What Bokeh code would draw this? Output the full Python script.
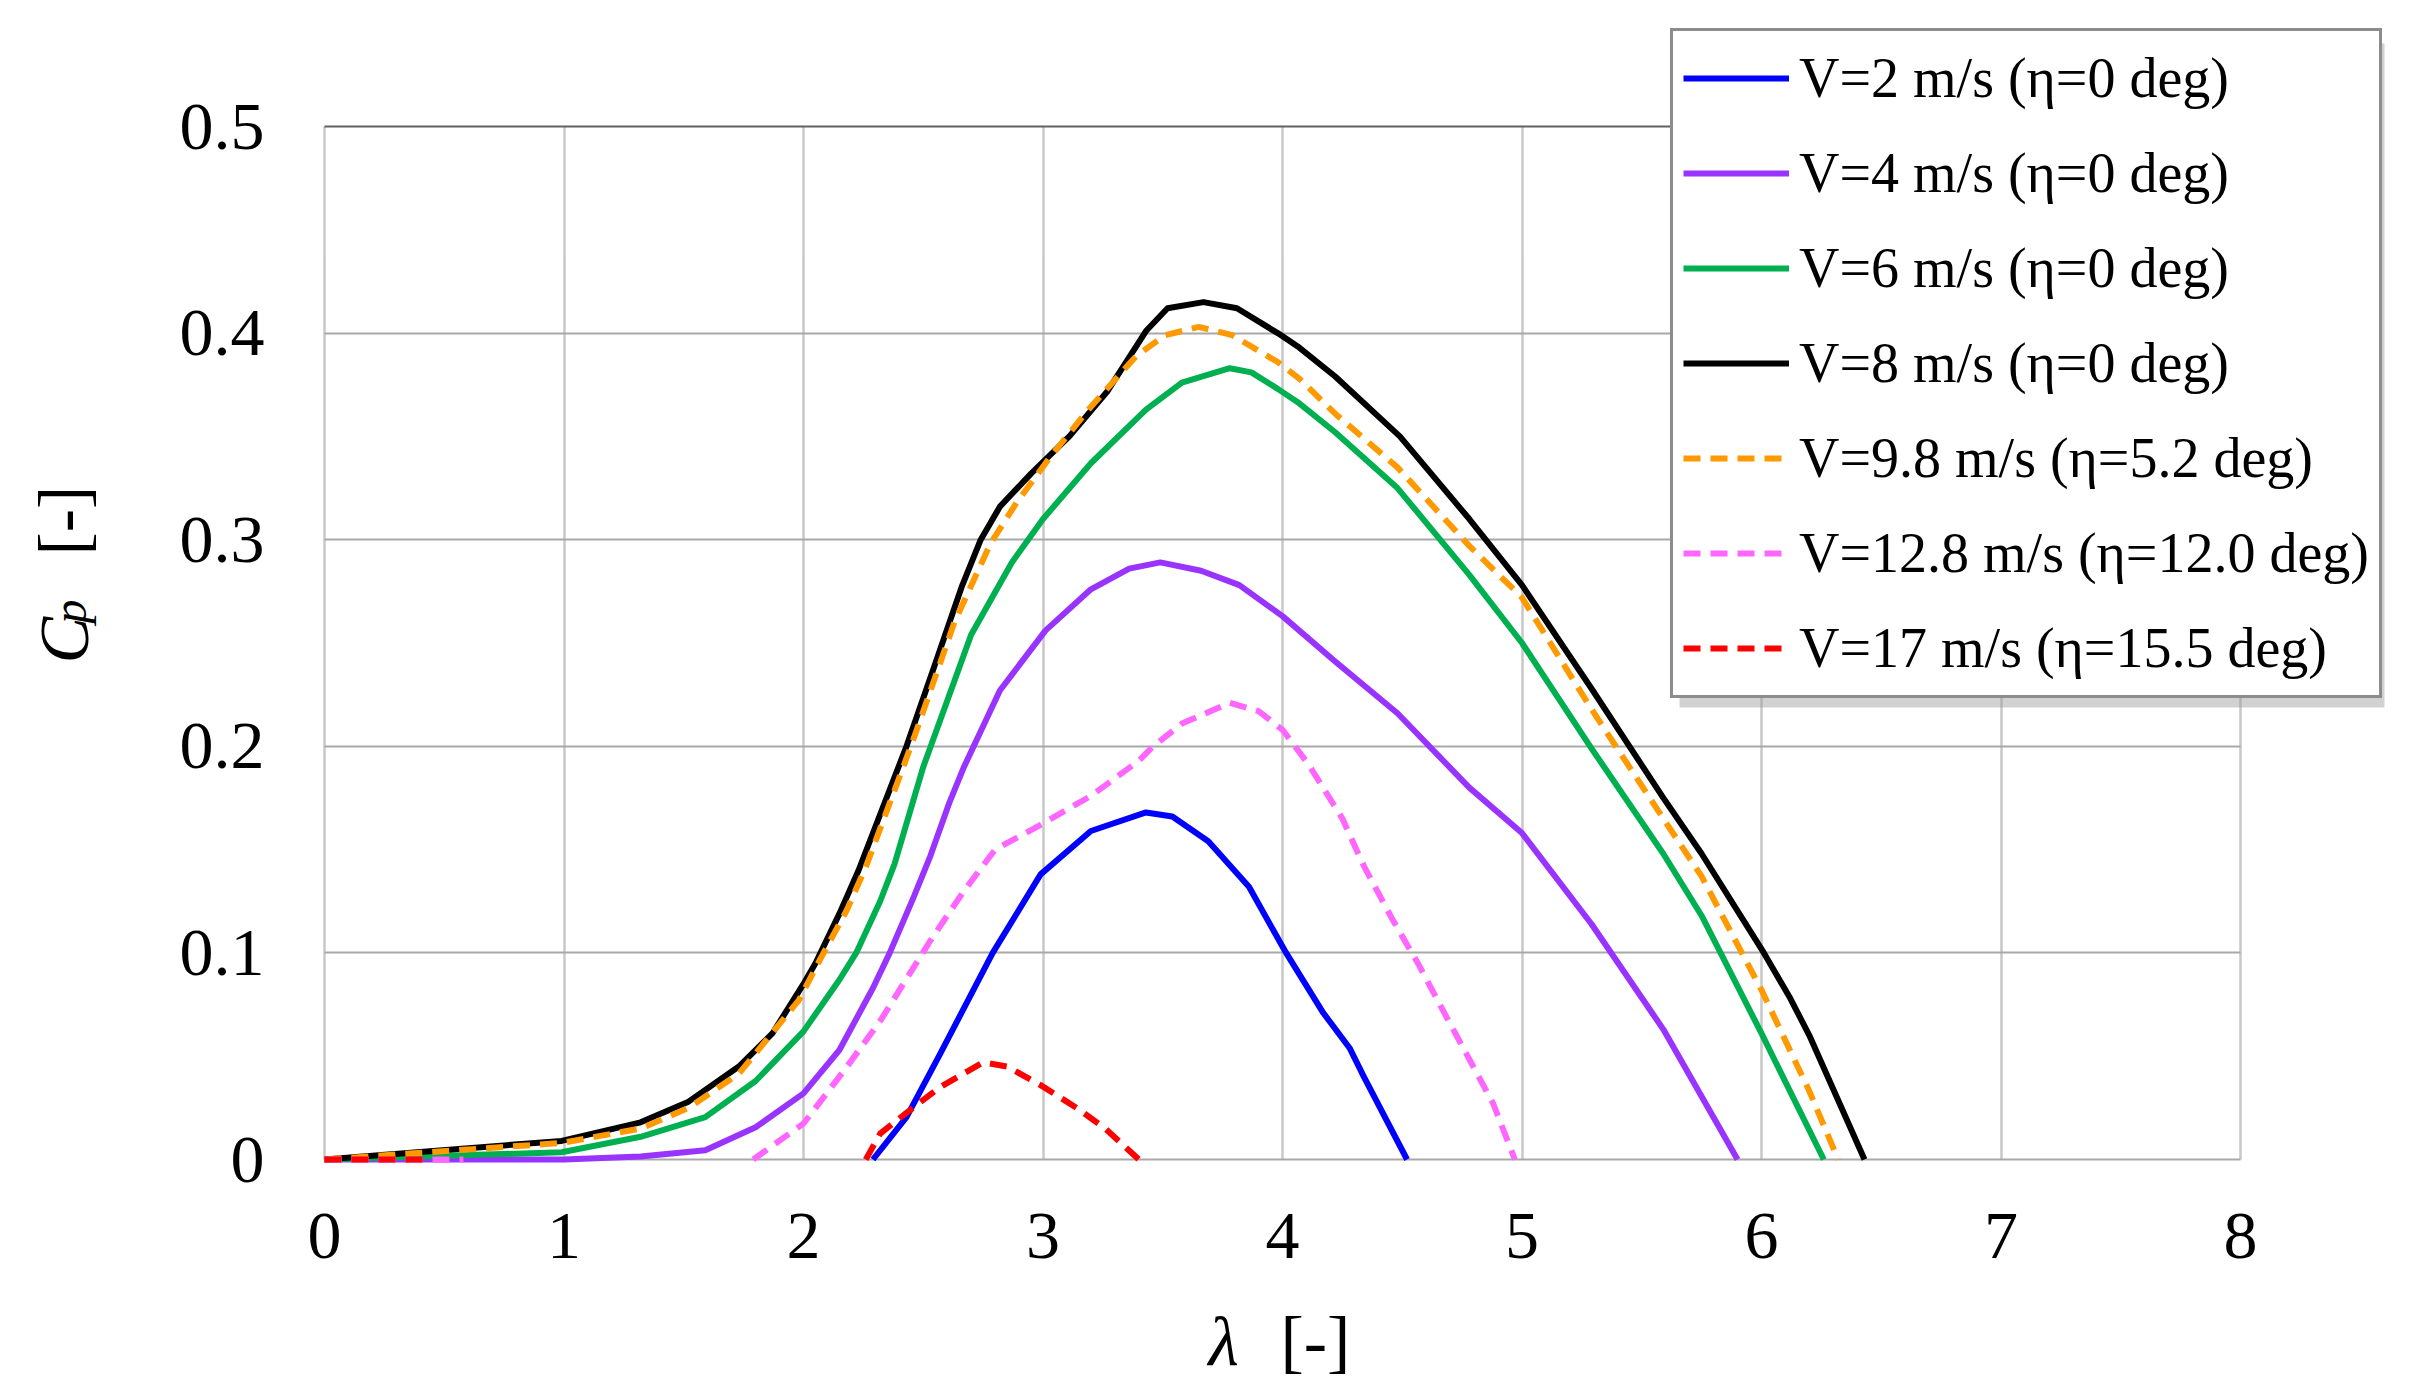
import math
from bokeh.plotting import figure
from bokeh.models import (Range1d, FixedTicker, Legend, LegendItem, Label, BoxAnnotation, Grid)
from bokeh.embed import file_html
from bokeh.resources import INLINE

NaN = float("nan")  # gap: the curve is below the axis minimum there (hidden in the reference)

# ---------------- data ----------------
x_ticks = [0, 1, 2, 3, 4, 5, 6, 7, 8]
y_ticks = [0, 0.1, 0.2, 0.3, 0.4, 0.5]
y_tick_labels = ["0", "0.1", "0.2", "0.3", "0.4", "0.5"]

labels = ["V=2 m/s (η=0 deg)", "V=4 m/s (η=0 deg)", "V=6 m/s (η=0 deg)",
          "V=8 m/s (η=0 deg)", "V=9.8 m/s (η=5.2 deg)",
          "V=12.8 m/s (η=12.0 deg)", "V=17 m/s (η=15.5 deg)"]

v2_x = [2.29, 2.43, 2.57, 2.79, 2.99, 3.20, 3.43, 3.54, 3.69, 3.86, 4.01, 4.17, 4.28, 4.34, 4.52]
v2_y = [0, 0.0205, 0.051, 0.100, 0.138, 0.159, 0.168, 0.166, 0.154, 0.132, 0.101, 0.071, 0.054, 0.040, 0]

v4_x = [0, 1.00, 1.32, 1.59, 1.80, 2.00, 2.15, 2.29, 2.36, 2.46, 2.53, 2.61, 2.67, 2.82, 3.01, 3.20, 3.36,
        3.49, 3.66, 3.82, 4.00, 4.22, 4.48, 4.78, 5.00, 5.29, 5.59, 5.90]
v4_y = [0, 0, 0.0015, 0.0045, 0.0156, 0.032, 0.053, 0.083, 0.100, 0.127, 0.147, 0.173, 0.190, 0.227, 0.256,
        0.276, 0.286, 0.289, 0.285, 0.278, 0.263, 0.241, 0.216, 0.180, 0.158, 0.114, 0.063, 0]

v6_x = [0, 0.99, 1.32, 1.59, 1.80, 2.00, 2.15, 2.22, 2.32, 2.38, 2.50, 2.70, 2.87, 3.00, 3.20, 3.43, 3.58,
        3.78, 3.87, 3.98, 4.07, 4.22, 4.48, 4.78, 5.00, 5.29, 5.59, 5.75, 5.93, 6.00, 6.26]
v6_y = [0, 0.0035, 0.011, 0.0205, 0.038, 0.062, 0.087, 0.100, 0.125, 0.143, 0.190, 0.254, 0.289, 0.310,
        0.337, 0.363, 0.376, 0.383, 0.381, 0.373, 0.366, 0.352, 0.325, 0.283, 0.250, 0.199, 0.148, 0.118,
        0.077, 0.061, 0]

v8_x = [0, 0.44, 0.99, 1.32, 1.52, 1.73, 1.87, 2.00, 2.05, 2.15, 2.23, 2.43, 2.55, 2.66, 2.74, 2.82, 2.95,
        3.11, 3.27, 3.43, 3.52, 3.67, 3.81, 3.98, 4.07, 4.22, 4.49, 4.78, 5.00, 5.29, 5.59, 5.75, 6.01,
        6.12, 6.20, 6.43]
v8_y = [0, 0.004, 0.009, 0.018, 0.028, 0.045, 0.061, 0.085, 0.095, 0.119, 0.140, 0.200, 0.240, 0.277,
        0.300, 0.316, 0.332, 0.350, 0.372, 0.401, 0.412, 0.415, 0.412, 0.400, 0.393, 0.379, 0.350, 0.310,
        0.278, 0.228, 0.175, 0.148, 0.100, 0.078, 0.060, 0]

v98_x = [0, 0.99, 1.32, 1.52, 1.73, 1.98, 2.07, 2.18, 2.26, 2.41, 2.47, 2.63, 2.78, 2.89, 3.03, 3.19,
         3.39, 3.51, 3.65, 3.79, 3.98, 4.07, 4.22, 4.48, 4.78, 5.00, 5.29, 5.59, 5.75, 6.00, 6.20, 6.32]
v98_y = [0, 0.008, 0.015, 0.025, 0.0415, 0.077, 0.097, 0.1205, 0.1415, 0.188, 0.207, 0.260, 0.298, 0.318,
         0.340, 0.363, 0.389, 0.399, 0.403, 0.399, 0.386, 0.378, 0.361, 0.335, 0.297, 0.272, 0.218, 0.165,
         0.137, 0.082, 0.033, 0]

v128_x = [0, 0.58, NaN, 1.79, 2.00, 2.18, 2.32, 2.46, 2.53, 2.67, 2.80, 2.99, 3.20, 3.40, 3.46, 3.58,
          3.78, 3.90, 4.00, 4.11, 4.25, 4.34, 4.46, 4.57, 4.68, 4.88, 4.97]
v128_y = [0, 0, NaN, 0, 0.0174, 0.0447, 0.067, 0.093, 0.106, 0.130, 0.150, 0.162, 0.176, 0.193, 0.200,
          0.211, 0.221, 0.217, 0.208, 0.191, 0.165, 0.142, 0.116, 0.094, 0.070, 0.027, 0]

v17_x = [0, 0.45, NaN, 2.26, 2.32, 2.43, 2.57, 2.75, 2.85, 2.99, 3.14, 3.26, 3.40]
v17_y = [0, 0, NaN, 0, 0.0125, 0.0226, 0.035, 0.047, 0.045, 0.036, 0.025, 0.015, 0]

series_x = [v2_x, v4_x, v6_x, v8_x, v98_x, v128_x, v17_x]
series_y = [v2_y, v4_y, v6_y, v8_y, v98_y, v128_y, v17_y]

# ---------------- styles / layout ----------------
colors = ["#0000ff", "#9933ff", "#00b050", "#000000", "#ff9900", "#ff66ff", "#ff0000"]
dashes = ["solid", "solid", "solid", "solid", "17 10", "17 10", "17 10"]
SERIF = "Liberation Serif"

W, H = 2422, 1392
# pixel placement of the plotting area inside the canvas (frame covers whole canvas)
X0_PX, UNIT_X = 324.0, 239.5      # screen x of lambda=0, px per unit
Y0_PX, UNIT_Y = 1159.0, 2066.0    # screen y (from top) of Cp=0, px per unit
x_range = Range1d(-X0_PX / UNIT_X, (W - X0_PX) / UNIT_X)
y_range = Range1d(-(H - Y0_PX) / UNIT_Y, Y0_PX / UNIT_Y)

p = figure(width=W, height=H, output_backend="svg", toolbar_location=None,
           x_range=x_range, y_range=y_range, min_border=0,
           min_border_left=0, min_border_right=0, min_border_top=0, min_border_bottom=0)
p.background_fill_color = "white"
p.border_fill_color = "white"
p.outline_line_color = None

p.xaxis.fixed_location = 0
p.yaxis.fixed_location = 0
for ax in (p.xaxis[0], p.yaxis[0]):
    ax.axis_line_color = None
    ax.major_tick_line_color = None
    ax.minor_tick_line_color = None
    ax.major_tick_out = 0
    ax.major_tick_in = 0
    ax.major_label_text_font = SERIF
    ax.major_label_text_font_size = "68px"
    ax.major_label_text_color = "black"

p.xaxis.ticker = FixedTicker(ticks=x_ticks)
p.yaxis.ticker = FixedTicker(ticks=y_ticks)
p.yaxis.major_label_overrides = {t: s for t, s in zip(y_ticks, y_tick_labels)}
p.xaxis.major_label_standoff = 54
p.yaxis.major_label_standoff = 60

# grid limited to the data box
xb = (x_ticks[0], x_ticks[-1])
yb = (y_ticks[0], y_ticks[-1])
has_cross = "cross_bounds" in Grid.properties()
p.xgrid.visible = False
p.ygrid.visible = False
if has_cross:
    p.add_layout(Grid(dimension=0, ticker=FixedTicker(ticks=x_ticks), bounds=xb, cross_bounds=yb,
                      grid_line_color="#c8c8c8", grid_line_width=2.5))
    p.add_layout(Grid(dimension=1, ticker=FixedTicker(ticks=y_ticks[:-1]), bounds=yb, cross_bounds=xb,
                      grid_line_color="#a8a8a8", grid_line_width=2))
    p.add_layout(Grid(dimension=1, ticker=FixedTicker(ticks=y_ticks[-1:]), bounds=yb, cross_bounds=xb,
                      grid_line_color="#606060", grid_line_width=2))
else:
    p.multi_line([[t, t] for t in x_ticks], [list(yb) for _ in x_ticks],
                 line_color="#c8c8c8", line_width=2.5)
    p.multi_line([list(xb) for _ in y_ticks[:-1]], [[t, t] for t in y_ticks[:-1]],
                 line_color="#a8a8a8", line_width=2)
    p.multi_line([list(xb)], [[y_ticks[-1], y_ticks[-1]]], line_color="#606060", line_width=2)

renderers = []
for xs, ys, c, d in zip(series_x, series_y, colors, dashes):
    r = p.line(xs, ys, line_color=c, line_width=6, line_dash=d, line_join="round")
    renderers.append(r)

# axis titles (screen units: x from left, y from bottom of the canvas-sized frame)
def lab(x, y, text, size, italic=False, angle=0.0):
    p.add_layout(Label(x=x, y=y, x_units="screen", y_units="screen", text=text, angle=angle,
                       text_font=SERIF, text_font_style="italic" if italic else "normal",
                       text_font_size=size, text_baseline="alphabetic", text_align="left",
                       text_color="black"))

lab(1208, H - 1341, "λ", "70px", italic=True)
lab(1280, H - 1341, "[-]", "70px")
lab(64, H - 663, "C", "70px", italic=True, angle=math.pi / 2)
lab(69, H - 623, "p", "48px", italic=True, angle=math.pi / 2)
lab(63, H - 555, "[-]", "70px", angle=math.pi / 2)

# legend shadow + legend
LX, LTOP, LW, LH = 1670, 34, 705, 664
LY = H - LTOP - LH
p.add_layout(BoxAnnotation(left=LX + 9, right=LX + LW + 9, bottom=LY - 9, top=LY + LH - 9,
                           left_units="screen", right_units="screen", bottom_units="screen",
                           top_units="screen", fill_color="#9a9a9a", fill_alpha=0.45,
                           line_color=None))
items = [LegendItem(label=l, renderers=[r]) for l, r in zip(labels, renderers)]
legend = Legend(items=items, location=(LX, LY), orientation="vertical",
                label_text_font=SERIF, label_text_font_size="56px", label_text_color="black",
                glyph_width=106, glyph_height=74, label_height=74, label_standoff=10,
                spacing=21, padding=10, margin=0,
                border_line_color="#1a1a1a", border_line_width=3,
                background_fill_color="white", background_fill_alpha=1.0)
p.add_layout(legend, "center")

open("out.html", "w").write(file_html(p, INLINE))
